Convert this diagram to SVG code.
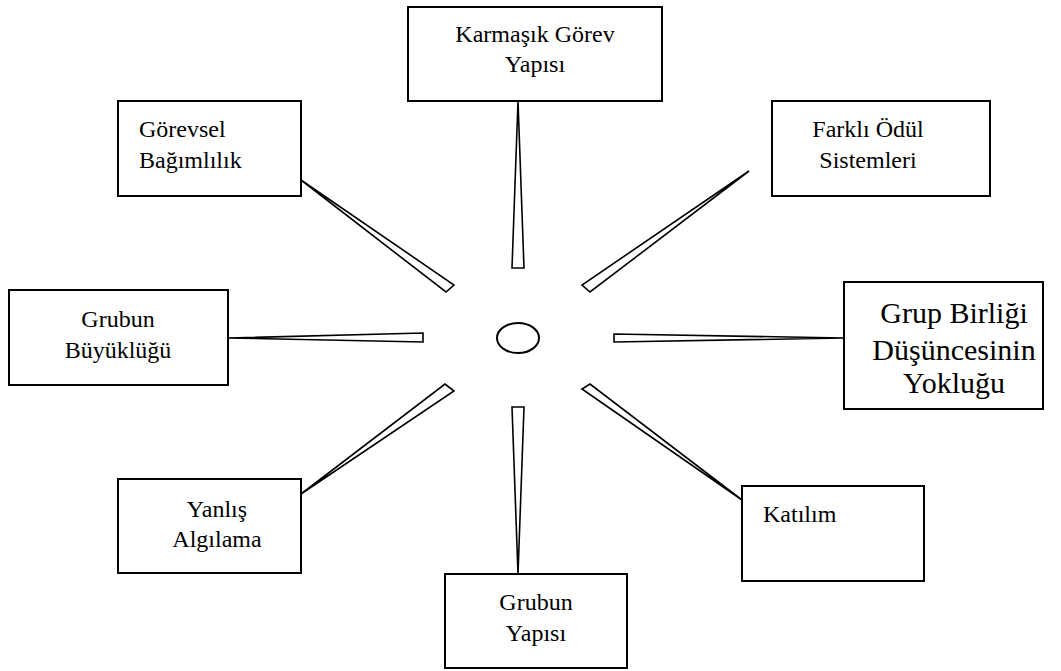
<svg xmlns="http://www.w3.org/2000/svg" width="1061" height="671" viewBox="0 0 1061 671">
<style>
.box{fill:#fff;stroke:#000;stroke-width:2}
.w{fill:#fff;stroke:#000;stroke-width:1.6;stroke-linejoin:miter}
text{font-family:'Liberation Serif','DejaVu Serif','Noto Serif',serif;font-size:24px;fill:#000}
.big{font-size:30px}
</style>
<rect width="1061" height="671" fill="#fff"/>
<g id="connectors">
<polygon class="w" points="518,101 524,268 512,268"/>
<polygon class="w" points="301,180 454,285 446,292"/>
<polygon class="w" points="749,171 582,285 590,292"/>
<polygon class="w" points="228,338 423,333 423,342"/>
<polygon class="w" points="844,338 614,334 614,342"/>
<polygon class="w" points="301,494 445,384 454,391"/>
<polygon class="w" points="742,500 582,389 590,384"/>
<polygon class="w" points="518,574 512,407 524,407"/>
</g>
<g id="center"><ellipse cx="518" cy="338" rx="21" ry="15" fill="#fff" stroke="#000" stroke-width="2"/></g>
<g id="karmasik"><rect class="box" x="408" y="7" width="254" height="94"/>
<text text-anchor="middle" x="535" y="42">Karmaşık Görev</text><text text-anchor="middle" x="535" y="72">Yapısı</text></g>
<g id="gorevsel"><rect class="box" x="118" y="101" width="183" height="95"/>
<text x="139" y="137">Görevsel</text><text x="139" y="168">Bağımlılık</text></g>
<g id="farkli"><rect class="box" x="772" y="101" width="218" height="95"/>
<text text-anchor="middle" x="868" y="137">Farklı Ödül</text><text text-anchor="middle" x="868" y="168">Sistemleri</text></g>
<g id="buyukluk"><rect class="box" x="9" y="290" width="219" height="95"/>
<text text-anchor="middle" x="118" y="327">Grubun</text><text text-anchor="middle" x="118" y="358">Büyüklüğü</text></g>
<g id="grupbirligi"><rect class="box" x="844" y="282" width="199" height="127"/>
<text class="big" text-anchor="middle" x="954" y="323">Grup Birliği</text><text class="big" text-anchor="middle" x="954" y="360">Düşüncesinin</text><text class="big" text-anchor="middle" x="954" y="393">Yokluğu</text></g>
<g id="yanlis"><rect class="box" x="118" y="479" width="183" height="94"/>
<text text-anchor="middle" x="217" y="517">Yanlış</text><text text-anchor="middle" x="217" y="547">Algılama</text></g>
<g id="katilim"><rect class="box" x="742" y="486" width="182" height="95"/>
<text x="763" y="522">Katılım</text></g>
<g id="yapi"><rect class="box" x="445" y="574" width="182" height="94"/>
<text text-anchor="middle" x="536" y="610">Grubun</text><text text-anchor="middle" x="536" y="641">Yapısı</text></g>
</svg>
